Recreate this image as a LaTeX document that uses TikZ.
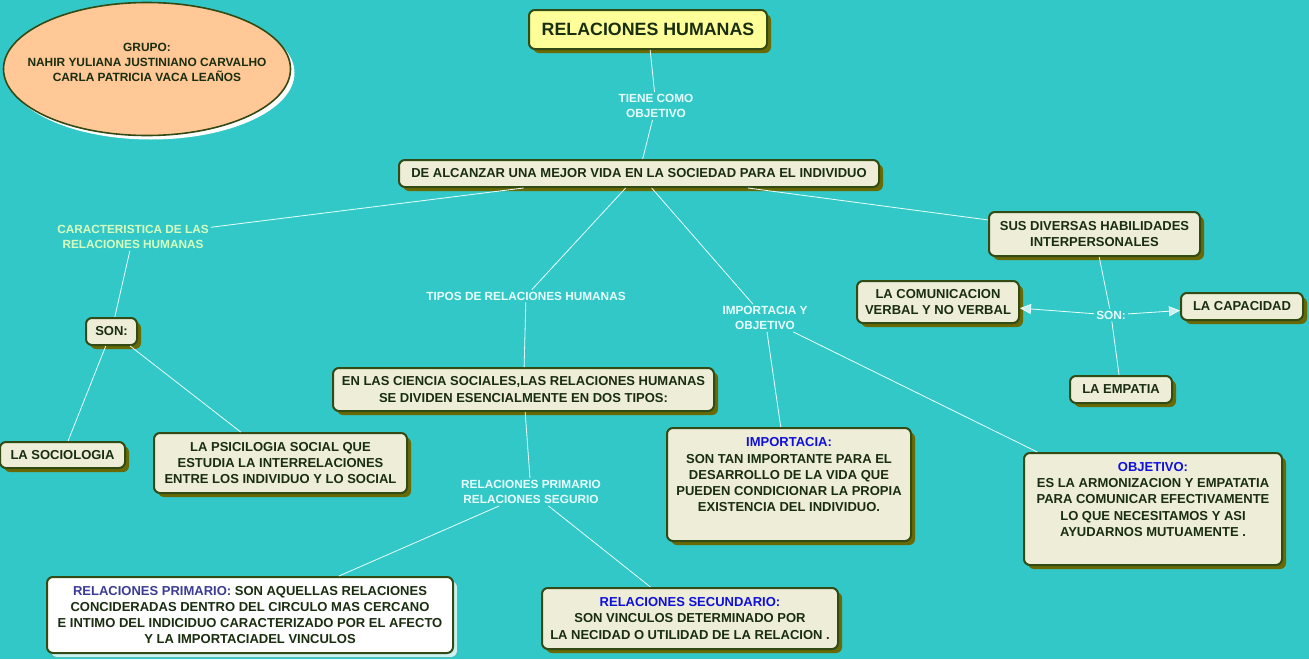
\documentclass[tikz,border=0pt]{standalone}
\usepackage{fontspec}
\setmainfont{Liberation Sans}
\usetikzlibrary{shadows,arrows.meta,shapes.geometric}
\definecolor{bg}{RGB}{51,200,200}
\definecolor{boxfill}{RGB}{238,238,216}
\definecolor{titlefill}{RGB}{255,255,153}
\definecolor{bordc}{RGB}{50,75,20}
\definecolor{shadc}{RGB}{105,105,5}
\definecolor{txtc}{RGB}{25,45,15}
\definecolor{labc}{RGB}{232,255,255}
\definecolor{carc}{RGB}{215,255,190}
\definecolor{linec}{RGB}{235,255,255}
\definecolor{arrc}{RGB}{205,240,240}
\definecolor{blu}{RGB}{15,15,220}
\definecolor{blup}{RGB}{60,60,150}
\definecolor{peach}{RGB}{255,200,150}
\newcommand\mynodefont{\fontsize{13}{16.3}\selectfont\bfseries}
\newcommand\mylabfont{\fontsize{11.8}{15}\selectfont\bfseries}
\newcommand\mytitlefont{\fontsize{17.8}{20}\selectfont\bfseries}
\newcommand\myellfont{\fontsize{11.9}{15}\selectfont\bfseries}
\begin{document}
\begin{tikzpicture}[x=1pt,y=-1pt,
  box/.style={draw=bordc, line width=2pt, fill=boxfill, rounded corners=6pt,
    text=txtc, font=\mynodefont, align=center, inner sep=3pt,
    drop shadow={shadow xshift=4pt, shadow yshift=-4pt, fill=shadc, opacity=1}},
  lab/.style={text=labc, font=\mylabfont, align=center, inner sep=2pt},
  conn/.style={draw=linec, line width=0.8pt},
  arr/.style={conn, -{Triangle[width=10pt,length=11pt,fill=arrc]}}]
\path[use as bounding box, fill=bg] (0,0) rectangle (1309,659);

% ellipse
\node[ellipse, draw=bordc, line width=1.6pt, fill=peach, minimum width=287, minimum height=133, inner sep=0,
  drop shadow={shadow xshift=4pt, shadow yshift=-4pt, fill=white, opacity=1}] (grp) at (147,69) {};
\node[text=txtc, font=\myellfont, align=center] (grptxt) at (147,62) {GRUPO:\\NAHIR YULIANA JUSTINIANO CARVALHO\\CARLA PATRICIA VACA LEAÑOS};

% nodes
\node[box, fill=titlefill, font=\mytitlefont, minimum width=238, minimum height=39] (title) at (648,29.5) {RELACIONES HUMANAS};
\node[box, minimum width=480, minimum height=27] (vida) at (639,173.5) {DE ALCANZAR UNA MEJOR VIDA EN LA SOCIEDAD PARA EL INDIVIDUO};
\node[box, minimum width=211, minimum height=44] (habil) at (1094.5,234) {SUS DIVERSAS HABILIDADES\\INTERPERSONALES};
\node[box, minimum width=51, minimum height=27] (son) at (111.5,331.5) {SON:};
\node[box, minimum width=125, minimum height=26] (socio) at (62.5,455) {LA SOCIOLOGIA};
\node[box, minimum width=253, minimum height=60] (psico) at (280.5,463) {LA PSICILOGIA SOCIAL QUE\\ESTUDIA LA INTERRELACIONES\\ENTRE LOS INDIVIDUO Y LO SOCIAL};
\node[box, minimum width=381, minimum height=43] (tipos) at (523.5,389.5) {EN LAS CIENCIA SOCIALES,LAS RELACIONES HUMANAS\\SE DIVIDEN ESENCIALMENTE EN DOS TIPOS:};
\node[box, minimum width=162, minimum height=42] (comu) at (938,302) {LA COMUNICACION\\VERBAL Y NO VERBAL};
\node[box, minimum width=122, minimum height=27] (capa) at (1242,306.5) {LA CAPACIDAD};
\node[box, minimum width=102, minimum height=27] (empa) at (1121,389.5) {LA EMPATIA};
\node[box, minimum width=244, minimum height=113] (impo) at (789,484.5) {\textcolor{blu}{IMPORTACIA:}\\SON TAN IMPORTANTE PARA EL\\DESARROLLO DE LA VIDA QUE\\PUEDEN CONDICIONAR LA PROPIA\\EXISTENCIA DEL INDIVIDUO.\\[3pt]\mbox{}};
\node[box, minimum width=258, minimum height=112] (obje) at (1153,509) {\textcolor{blu}{OBJETIVO:}\\ES LA ARMONIZACION Y EMPATATIA\\PARA COMUNICAR EFECTIVAMENTE\\LO QUE NECESITAMOS Y ASI\\AYUDARNOS MUTUAMENTE .\\[3pt]\mbox{}};
\node[box, fill=white, minimum width=406, minimum height=76,
  drop shadow={shadow xshift=4pt, shadow yshift=-4pt, fill=arrc, opacity=1}] (prim) at (250,615) {\textcolor{blup}{RELACIONES PRIMARIO:} SON AQUELLAS RELACIONES\\CONCIDERADAS DENTRO DEL CIRCULO MAS CERCANO\\E INTIMO DEL INDICIDUO CARACTERIZADO POR EL AFECTO\\Y LA IMPORTACIADEL VINCULOS};
\node[box, minimum width=296, minimum height=61] (secu) at (690,618.5) {\textcolor{blu}{RELACIONES SECUNDARIO:}\\SON VINCULOS DETERMINADO POR\\LA NECIDAD O UTILIDAD DE LA RELACION .};

% labels
\node[lab] (ltiene) at (656,106) {TIENE COMO\\OBJETIVO};
\node[lab, text=carc] (lcar) at (133,237) {CARACTERISTICA DE LAS\\RELACIONES HUMANAS};
\node[lab] (ltipos) at (526,296) {TIPOS DE RELACIONES HUMANAS};
\node[lab] (limpo) at (765,318) {IMPORTACIA Y\\OBJETIVO};
\node[lab] (lson) at (1111,315) {SON:};
\node[lab] (lrel) at (531,492) {RELACIONES PRIMARIO\\RELACIONES SEGURIO};

% connectors
\draw[conn] (title) -- (ltiene);
\draw[conn] (ltiene) -- (vida);
\draw[conn] (vida) -- (lcar);
\draw[conn] (lcar) -- (son);
\draw[conn] (son) -- (socio);
\draw[conn] (son) -- (psico);
\draw[conn] (vida) -- (ltipos);
\draw[conn] (ltipos) -- (tipos);
\draw[conn] (vida) -- (limpo);
\draw[conn] (limpo) -- (impo);
\draw[conn] (limpo) -- (obje);
\draw[conn] (vida) -- (habil);
\draw[conn] (habil) -- (lson);
\draw[conn] (lson) -- (empa);
\draw[arr] (lson) -- (comu);
\draw[arr] (lson) -- (capa);
\draw[conn] (tipos) -- (lrel);
\draw[conn] (lrel) -- (prim);
\draw[conn] (lrel) -- (secu);
\end{tikzpicture}
\end{document}
